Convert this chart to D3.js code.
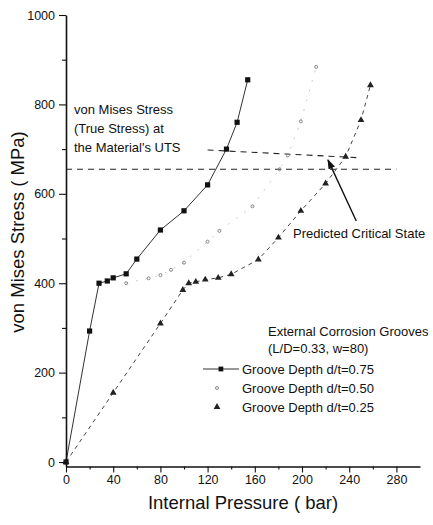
<!DOCTYPE html>
<html><head><meta charset="utf-8">
<script src="https://cdn.jsdelivr.net/npm/d3@7"></script>
<style>
body{margin:0;background:#fff}
svg{display:block}
text{font-family:"Liberation Sans",Arial,sans-serif;fill:#111}
</style>
</head><body><svg id="c" width="433" height="525"></svg>
<script>
// ---- data ----
const pressure075 = [0, 20, 28, 35, 40, 51, 60, 80, 100, 120, 136, 145, 154];
const stress075   = [0, 293, 400, 405, 412, 421, 454, 519, 562, 620, 700, 760, 855];
const pressure050 = [51, 70, 80, 89, 100, 120, 130, 158, 181, 188, 199, 212];
const stress050   = [400, 411, 418, 430, 446, 493, 517, 572, 655, 686, 762, 884];
const pressure025 = [0, 40, 80, 99, 104, 110, 118, 129, 140, 163, 180, 199, 220, 237, 250, 258];
const stress025   = [0, 155, 310, 385, 400, 403, 408, 412, 420, 453, 502, 562, 623, 683, 765, 843];
const xTicks = [0, 40, 80, 120, 160, 200, 240, 280];
const xMinorTicks = [20, 60, 100, 140, 180, 220, 260];
const yTicks = [0, 200, 400, 600, 800, 1000];
const yMinorTicks = [100, 300, 500, 700, 900];
const utsPressure = [0, 280];
const utsStress = [655, 655];
const trueStressPressure = [120, 246];
const trueStressValue = [698, 681];
const arrowPressure = [246, 222];
const arrowStress = [539, 676];
const seriesLabels = ["Groove Depth d/t=0.75", "Groove Depth d/t=0.50", "Groove Depth d/t=0.25"];

const svg = d3.select("#c");
const x = d3.scaleLinear().domain([0, 300]).range([66, 420]);
const y = d3.scaleLinear().domain([-10, 1000]).range([466.5, 15]);

const zip = (a, b) => a.map((v, i) => [v, b[i]]);
const d075 = zip(pressure075, stress075);
const d050 = zip(pressure050, stress050);
const d025 = zip(pressure025, stress025);
const line = d3.line().x(d => x(d[0])).y(d => y(d[1]));

// reference lines
svg.append("path").datum(zip(utsPressure, utsStress)).attr("d", line)
  .attr("fill", "none").attr("stroke", "#222").attr("stroke-width", 1.2).attr("stroke-dasharray", "6,5");
svg.append("path").datum(zip(trueStressPressure, trueStressValue)).attr("d", line)
  .attr("fill", "none").attr("stroke", "#222").attr("stroke-width", 1.1).attr("stroke-dasharray", "6,5");

// series lines
svg.append("path").datum(d075).attr("d", line)
  .attr("fill", "none").attr("stroke", "#333").attr("stroke-width", 1);
svg.append("path").datum(d050).attr("d", line)
  .attr("fill", "none").attr("stroke", "#bbb").attr("stroke-width", 0.8).attr("stroke-dasharray", "2,8");
svg.append("path").datum(d025).attr("d", line)
  .attr("fill", "none").attr("stroke", "#444").attr("stroke-width", 1).attr("stroke-dasharray", "4,4");

// markers
svg.append("g").selectAll("rect").data(d075).join("rect")
  .attr("x", d => x(d[0]) - 2.6).attr("y", d => y(d[1]) - 2.6)
  .attr("width", 5.2).attr("height", 5.2).attr("fill", "#111");
svg.append("g").selectAll("circle").data(d050).join("circle")
  .attr("cx", d => x(d[0])).attr("cy", d => y(d[1])).attr("r", 1.5)
  .attr("fill", "none").attr("stroke", "#888").attr("stroke-width", 1);
const tri = d3.symbol().type(d3.symbolTriangle).size(20);
svg.append("g").selectAll("path").data(d025).join("path")
  .attr("d", tri).attr("transform", d => `translate(${x(d[0])},${y(d[1])})`).attr("fill", "#222");

// axes
const fs = "12.5px";
svg.append("g").attr("transform", `translate(${x(0)},0)`)
  .call(d3.axisLeft(y).tickValues(yTicks).tickFormat(d3.format("d")).tickSize(7).tickSizeOuter(0).tickPadding(4));
svg.append("g").attr("transform", `translate(${x(0)},0)`)
  .call(d3.axisLeft(y).tickValues(yMinorTicks).tickSize(4).tickFormat("")).select(".domain").remove();
svg.append("g").attr("transform", `translate(0,${y(-10)})`)
  .call(d3.axisBottom(x).tickValues(xTicks).tickFormat(d3.format("d")).tickSize(6).tickSizeOuter(0).tickPadding(3));
svg.append("g").attr("transform", `translate(0,${y(-10)})`)
  .call(d3.axisBottom(x).tickValues(xMinorTicks).tickSize(3).tickFormat("")).select(".domain").remove();
svg.selectAll(".tick text").attr("font-size", fs).attr("font-family", '"Liberation Sans",Arial,sans-serif').attr("fill", "#111");
svg.selectAll(".domain").attr("stroke", "#111").attr("stroke-width", 1.6);
svg.selectAll(".tick line").attr("stroke", "#111").attr("stroke-width", 1.1);

// axis titles
svg.append("text").attr("x", 243).attr("y", 509).attr("text-anchor", "middle")
  .attr("font-size", "18.5px").text("Internal Pressure ( bar)");
svg.append("text").attr("transform", "translate(24,232) rotate(-90)").attr("text-anchor", "middle")
  .attr("font-size", "18.5px").text("von Mises Stress ( MPa)");

// annotation
const ann = svg.append("text").attr("font-size", "13px");
["von Mises Stress", "(True Stress) at", "the Material's UTS"].forEach((t, i) =>
  ann.append("tspan").attr("x", 74).attr("y", 114 + i * 19).text(t));

svg.append("defs").append("marker").attr("id", "ah").attr("viewBox", "0 0 10 10")
  .attr("refX", 9).attr("refY", 5).attr("markerWidth", 10).attr("markerHeight", 10)
  .attr("markerUnits", "userSpaceOnUse").attr("orient", "auto")
  .append("path").attr("d", "M0,1.5 L10,5 L0,8.5 Z").attr("fill", "#111");
svg.append("line")
  .attr("x1", x(arrowPressure[0])).attr("y1", y(arrowStress[0]))
  .attr("x2", x(arrowPressure[1])).attr("y2", y(arrowStress[1]))
  .attr("stroke", "#111").attr("stroke-width", 1.4).attr("marker-end", "url(#ah)");
svg.append("text").attr("x", 293).attr("y", 238).attr("font-size", "13px").text("Predicted Critical State");

// legend
svg.append("text").attr("x", 268).attr("y", 336).attr("font-size", "13px").text("External Corrosion Grooves");
svg.append("text").attr("x", 268).attr("y", 353).attr("font-size", "13px").text("(L/D=0.33, w=80)");
const ly = [369, 388, 407];
svg.append("line").attr("x1", 203).attr("x2", 239).attr("y1", ly[0]).attr("y2", ly[0]).attr("stroke", "#333");
svg.append("rect").attr("x", 218.5).attr("y", ly[0] - 2.4).attr("width", 4.8).attr("height", 4.8).attr("fill", "#111");
svg.append("circle").attr("cx", 217).attr("cy", ly[1]).attr("r", 1.5).attr("fill", "none").attr("stroke", "#888");
svg.append("path").attr("d", tri).attr("transform", `translate(217,${ly[2]})`).attr("fill", "#222");
seriesLabels.forEach((t, i) => svg.append("text").attr("x", 242).attr("y", ly[i] + 4.5)
  .attr("font-size", "13px").text(t));
</script></body></html>
